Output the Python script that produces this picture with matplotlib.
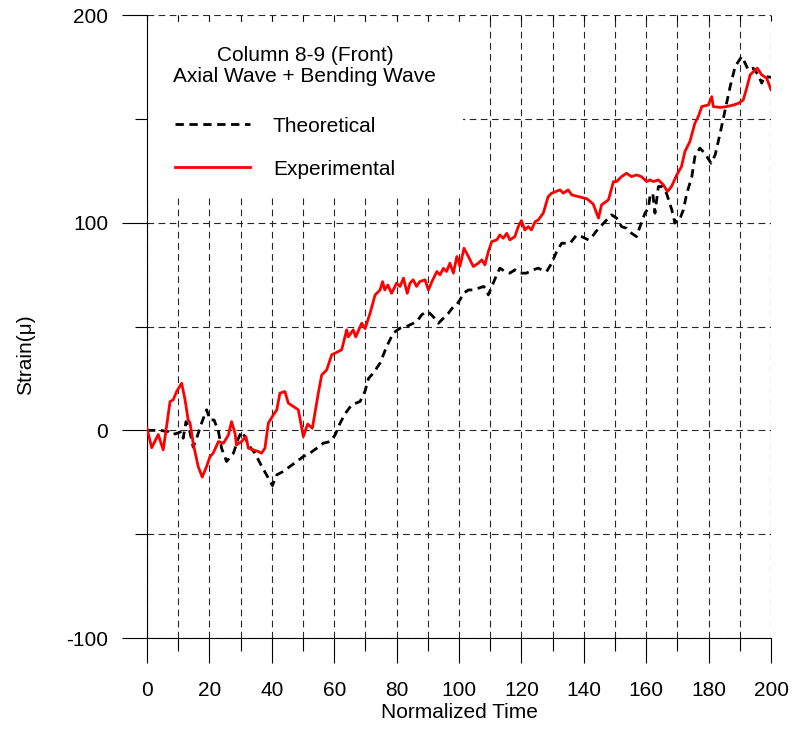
"""
Column 8-9 (Front): theoretical vs experimental strain over normalized time.
Output: out.png
"""
import matplotlib
matplotlib.use('Agg')
import matplotlib.pyplot as plt
from matplotlib.patches import Rectangle
from matplotlib.ticker import MultipleLocator

plt.rcParams['font.family'] = ['Liberation Sans', 'DejaVu Sans']
plt.rcParams['axes.unicode_minus'] = False

# Theoretical (black dashed)
theo_x = [0, 4.2, 6.8, 7.9, 9.5, 11.1, 11.6, 12.5, 13.5, 14.8, 15.9, 17.5, 19.1, 20.2,
          21.5, 22.9, 23.9, 25.5, 27.7, 29.3, 30.3, 31.4, 32.5, 34.6, 36.8, 38.9, 40.2,
          41.6, 43.7, 45.8, 48, 50.1, 52.2, 54.4, 56.5, 58.7, 60.3, 61.9, 63.5, 65.6,
          68.3, 69.9, 71, 72.5, 74.7, 76.8, 78.9, 81.1, 83.2, 85.4, 86.9, 88, 89.6,
          90.6, 91.7, 93.4, 95, 96.6, 98.2, 99.2, 100.3, 101.4, 103, 104.6, 106.2,
          107.9, 108.9, 109.4, 110.5, 112.1, 113.1, 114.7, 116.3, 117.9, 119.5, 121.6,
          123.8, 125.4, 126.5, 128.1, 129.7, 131.3, 132.9, 135.6, 137.7, 139.3, 141.5,
          143.1, 144.7, 145.8, 147.3, 148.9, 150.5, 152.1, 153.7, 155.3, 156.9, 158,
          159.6, 160.7, 161.2, 162.1, 162.8, 163.9, 164.9, 166.5, 168.2, 169.2, 170,
          170.9, 171.9, 173, 174.6, 175.6, 177.2, 178.8, 180.8, 182.1, 183.7, 185.3,
          186.9, 188.5, 190.6, 191.7, 192.7, 194.3, 195.9, 197, 198, 200]
theo_y = [0, 0, -0.6, -2, -1.5, -0.5, -3.8, 4.2, 1, -8.1, -3.8, 3.5, 9.9, 5,
          5, -0.6, -8.6, -15, -11, -3.8, -0.6, -3, -7, -11, -17.4, -23, -26.6,
          -21.4, -19.8, -17.4, -15, -12.6, -11, -8.6, -6.2, -5.4, -2.2, 3.5, 8, 12.3,
          13.9, 19, 25, 27.5, 32.4, 40.3, 46.8, 49.2, 50, 51.6, 53.2, 55.6, 57.2,
          56.4, 54.8, 51.6, 54, 56.4, 59.6, 60.4, 62.8, 66, 67.6, 67.6, 68.4,
          69.3, 67.6, 65.2, 69.3, 74.9, 78.1, 76.5, 75.7, 77.3, 75.7, 75.7,
          77.3, 78.1, 77.3, 76.5, 80.5, 86.1, 90.1, 90.1, 94.1, 93.3, 91.7,
          94.1, 97.3, 98.9, 101.3, 103.8, 102.2, 98.1, 97.3, 94.9, 93.3, 98.1,
          104.6, 107, 112.6, 114.2, 104.6, 117.4, 117.4, 114.2, 106.2, 99.8, 102.2,
          102.2, 106.2, 114, 122, 131.8, 135.9, 133.4, 128.6, 132.6, 143.1, 154.3,
          165.5, 175.2, 180, 176.8, 173.6, 174.4, 171.2, 167.2, 170.4, 170]

# Experimental (red solid)
exp_x = [0, 1.5, 3.6, 5.2, 7.4, 8.4, 9.5, 11.1, 12.2, 13.2, 13.8, 14.8, 16.4, 17.7,
         19.1, 20.2, 21.2, 22.9, 24.5, 26.1, 27.1, 28.2, 28.7, 30.3, 31.7, 32.5, 34.1,
         35.7, 36.7, 37.8, 38.9, 40.5, 41.6, 42.6, 44.2, 45.3, 46.9, 48.5, 50.1, 51.5,
         53, 54.9, 56, 57.6, 59.2, 60.3, 62.4, 64, 64.5, 66.1, 66.9, 68.8, 69.9, 71.5,
         73.1, 74.7, 75.5, 76.2, 77.2, 78.4, 80, 81.1, 82.2, 83.4, 84.3, 85.3, 86.4,
         87.4, 89.1, 90.2, 91.3, 92.9, 93.9, 95, 96, 97.1, 98.2, 99.3, 100.3, 101.6,
         103, 104.6, 106.2, 107.3, 108.3, 109.4, 110.5, 112.1, 113.1, 114.2, 115.3,
         116.3, 117.9, 119, 120, 121.1, 122.2, 123.2, 124.4, 125.4, 127, 128.6, 129.7,
         132.4, 133.4, 135, 136.1, 138.2, 141, 143, 144.7, 145.7, 147.9, 149.5, 150.5,
         152.1, 153.7, 155.3, 156.9, 158.4, 160.2, 161.2, 162.3, 163.9, 165.5, 166.8,
         168.1, 169.8, 171.3, 172.4, 174, 175.6, 176.7, 177.8, 179.9, 181, 181.5,
         183.7, 185.8, 188, 189.6, 191.1, 192.2, 193.3, 194.4, 195.6, 197, 198.6, 200]
exp_y = [1, -8.4, -2, -9.4, 13.9, 14.7, 18.7, 22.7, 14.7, 5, 3.5, -6.2, -17.4, -22.5,
         -17.4, -12.6, -11, -5.4, -6.2, -2.2, 4.2, -1.4, -7, -5.4, -3, -8.6, -9.4,
         -10.2, -11, -8.6, 3.5, 7.5, 9.9, 17.9, 18.7, 13.1, 11.5, 9.9, -3, 3,
         1, 17.9, 26.7, 29.1, 36.4, 37.2, 38.8, 48.4, 45, 48.4, 45, 51.6, 49, 56.4,
         65.2, 67.6, 71.6, 67.6, 70, 66, 70.9, 69.3, 73.3, 66, 70.9, 72.5, 69.3,
         71.6, 72.5, 67.6, 71.6, 76.5, 74.9, 78, 76.5, 80.5, 75.7, 83.7, 79, 87.7,
         83.7, 78.9, 80.5, 82.1, 79.7, 86.1, 90.9, 91.7, 94.1, 92.5, 94.9,
         91.7, 93.3, 98.1, 101, 96.5, 98.1, 96.5, 100.5, 101.3, 104.6, 112.6, 114.2,
         115.8, 114.2, 115.8, 113.4, 112.6, 111.5, 109, 102.2, 108.6, 111, 119.8, 119.8,
         122.2, 123.8, 122.2, 123, 122.2, 119.8, 120.6, 119.8, 120.6, 118.2, 115,
         117.4, 123, 127, 134.2, 139.1, 147.9, 151.1, 155.9, 156.7, 160.7, 155.9,
         155.5, 155.9, 156.7, 157.5, 159.1, 164.8, 171.2, 172.8, 174.4, 171.2, 169.6, 164]

title_lines = 'Column 8-9 (Front)\nAxial Wave + Bending Wave'
FS = 15

fig = plt.figure(figsize=(7.92, 7.29), dpi=100)
ax = fig.add_axes([0.1856, 0.1248, 0.7879, 0.8546])

ax.set_xlim(0, 200)
ax.set_ylim(-100, 200)
ax.xaxis.set_major_locator(MultipleLocator(20))
ax.xaxis.set_minor_locator(MultipleLocator(10))
ax.yaxis.set_major_locator(MultipleLocator(100))
ax.yaxis.set_minor_locator(MultipleLocator(50))

grid_style = dict(color='0.15', linewidth=0.8, linestyle=(0, (6, 4)))
ax.grid(True, which='both', **grid_style)
ax.set_axisbelow(True)

ax.tick_params(which='major', direction='out', length=18, width=0.8,
               labelsize=FS, color='black')
ax.tick_params(which='minor', direction='out', length=9, width=0.8, color='black')
ax.tick_params(axis='x', which='major', pad=13)
ax.tick_params(axis='y', which='major', pad=10)

for side in ('top', 'right'):
    ax.spines[side].set_visible(False)
for side in ('left', 'bottom'):
    ax.spines[side].set_linewidth(0.8)

# small inward ticks along the top edge
top = ax.secondary_xaxis('top')
top.xaxis.set_major_locator(MultipleLocator(10))
top.tick_params(direction='in', length=4.5, width=0.8, labeltop=False)
top.spines['top'].set_visible(False)

ax.plot(theo_x, theo_y, color='black', linewidth=2.0, linestyle=(0, (3, 2)),
        label='Theoretical', zorder=3)
ax.plot(exp_x, exp_y, color='#ff0000', linewidth=2.0, label='Experimental', zorder=3)

# white block behind the legend text
ax.add_patch(Rectangle((0.002, 0.711), 0.504, 0.278, transform=ax.transAxes,
                       facecolor='white', edgecolor='none', zorder=1.8))

ax.text(0.253, 0.918, title_lines, transform=ax.transAxes, ha='center', va='center',
        fontsize=FS, linespacing=1.15, zorder=4)

ax.legend(loc='upper left', bbox_to_anchor=(0.045, 0.837), frameon=False,
          fontsize=FS, handlelength=3.6, handletextpad=1.1, labelspacing=1.15,
          borderpad=0, borderaxespad=0)

ax.set_xlabel('Normalized Time', fontsize=FS, labelpad=2)
ax.set_ylabel('Strain(\u03bc)', fontsize=FS)
ax.yaxis.set_label_coords(-0.18, 0.454)

plt.savefig('out.png', dpi=100)
